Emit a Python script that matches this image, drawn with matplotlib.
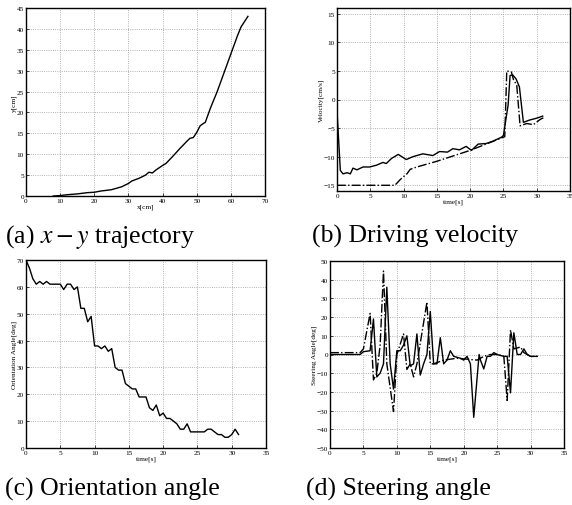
import matplotlib
matplotlib.use('Agg')
from matplotlib import pyplot as plt
import numpy as np

plt.rcParams['font.family'] = ['Liberation Serif', 'DejaVu Serif']
plt.rcParams['mathtext.fontset'] = 'stix'

# (a) x-y trajectory
traj_x = [8, 10, 12, 15, 18, 20, 22, 25, 28, 30, 31, 33, 35, 36, 37, 38, 40, 41, 43, 45, 47, 48, 49,
          50, 51, 52, 52.5, 54, 56, 58, 60, 62, 63, 65]
traj_y = [0, 0.1, 0.3, 0.5, 0.8, 0.9, 1.2, 1.5, 2.2, 3.0, 3.6, 4.2, 5.0, 5.7, 5.5, 6.2, 7.3, 7.8, 9.5,
          11.3, 13.0, 13.8, 14.0, 15.2, 16.8, 17.4, 17.6, 21, 25, 29.5, 34, 38.5, 40.5, 43]

# (b) driving velocity
vel_t = [0, 0.5, 0.9, 1.5, 2, 2.4, 3, 3.9, 4.9, 5.9, 6.9, 7.4, 8.2, 9.2, 10.4, 11.4, 12.9, 14.4, 15.4,
         16.6, 17.4, 18.4, 19.4, 20.2, 21.2, 22.4, 23.4, 24.7, 25.0, 25.7, 26.0, 26.4, 26.9, 27.4,
         28.0, 28.9, 29.9, 30.9]
vel_meas = [-2, -12.4, -13, -12.8, -13, -12, -12.3, -11.8, -11.8, -11.5, -11, -11.2, -10.3, -9.6, -10.5,
            -10, -9.5, -9.8, -9.1, -9.2, -8.6, -8.8, -8.2, -8.9, -7.8, -7.7, -7.3, -6.6, -6.3, -1,
            4.2, 4.3, 3.6, 2.2, -4, -3.6, -3.3, -2.9]
vel_ref_t = [0, 8.7, 9.5, 10.5, 11, 12, 15, 20, 25.2, 25.5, 26.2, 26.5, 27, 27.5, 28.5, 29.5, 30.5, 31]
vel_ref = [-15, -15, -14, -13, -12.2, -11.8, -10.8, -8.9, -6.5, 5.0, 4.8, 3.5, 2.5, -4.6, -4.2, -4.4,
           -3.5, -3.2]

# (c) orientation angle
ori_t = [0, 0.5, 1, 1.5, 2, 2.5, 3, 3.5, 5, 5.5, 6, 6.5, 7, 7.5, 8, 8.5, 9, 9.5, 10, 10.5, 11, 11.5,
         12, 12.5, 13, 13.5, 14, 14.5, 15, 15.5, 16, 16.5, 17, 17.5, 18, 18.5, 19, 19.5, 20, 20.5, 21,
         21.5, 22, 22.5, 23, 23.5, 24, 24.5, 25, 26, 26.5, 27, 27.5, 28, 28.5, 29, 29.5, 30, 30.5, 31]
ori = [70, 67, 63, 61, 62, 61, 62, 61, 61, 59, 61, 61, 59, 60, 52, 52, 47, 49, 38, 38, 37, 38, 36, 37,
       30, 29, 29, 24, 23, 22, 22, 19, 19, 19, 15, 14, 16, 12, 13, 11, 11, 10, 9, 7, 7, 9, 6, 6, 6, 6,
       7, 7, 6, 5, 5, 4, 4, 5, 7, 5]

# (d) steering angle
st_t = [0, 4.5, 5, 6, 6.5, 7, 7.5, 8, 8.5, 9, 9.5, 10, 10.5, 11, 11.5, 12, 12.5, 13, 13.5, 14, 14.5,
        15, 15.5, 16, 16.5, 17, 17.5, 18, 18.5, 19.5, 20, 20.5, 21, 21.5, 22.3, 22.5, 23, 23.5, 24,
        24.5, 25, 26, 26.5, 27, 27.5, 28, 28.5, 29, 29.5, 30, 31]
st_meas = [0, 0, 1.5, 2, 19, -12, -10, -5, 36, -5, -18.5, 2, 2, 5, 10, -6, -5, 11, -11, -5, 0, 23,
           -5, -5, 9, -5, -3, 2, -1, -2, -3, -1, -5, -33.6, 0, -3, -7.7, -1, -1, 1, 0, -1, -1, -20.5,
           11.6, 0, 0, 3, 0, -1, -1]
st_ref_t = [0, 4.5, 5, 6, 6.5, 7, 7.5, 8, 8.5, 9.5, 10, 11, 11.5, 12, 12.5, 13, 14.5, 15, 15.5, 17,
            19, 22, 23, 24, 25, 26, 26.5, 27, 27.5, 28.5, 29, 30, 31]
st_ref = [1, 1, 3, 22, -13.6, -10, 5, 44.6, -5, -30.5, 0, 11, -8, -5, -12, -5, 28, -5, -5, -3, -2, -3,
          -1, 0, 0, -1, -24.6, 13.2, 3, 4, 1, -1, -1]

captions = ['(a) $x-y$ trajectory', '(b) Driving velocity', '(c) Orientation angle', '(d) Steering angle']

W, H = 572, 506
fig = plt.figure(figsize=(W / 100, H / 100), dpi=100)


def mkax(l, t, r, b):
    return fig.add_axes([l / W, 1 - b / H, (r - l) / W, (b - t) / H])


def style(ax, xlabel, ylabel):
    ax.grid(True, linestyle=':', color='#999999', linewidth=0.6)
    ax.tick_params(labelsize=5.2, length=2, width=0.5, pad=1.5, direction='in')
    for s in ax.spines.values():
        s.set_linewidth(1.0)
    ax.set_xlabel(xlabel, fontsize=5.2, labelpad=0)
    ax.set_ylabel(ylabel, fontsize=5.2, labelpad=0)


ax = mkax(26, 9, 265, 197)
ax.plot(traj_x, traj_y, 'k-', linewidth=1.0)
ax.set_xlim(0, 70)
ax.set_ylim(0, 45)
ax.set_xticks(np.arange(0, 71, 10))
ax.set_yticks(np.arange(0, 46, 5))
style(ax, 'x[cm]', 'y[cm]')

ax = mkax(337, 9, 570, 192)
ax.plot(vel_t, vel_meas, 'k-', linewidth=1.0)
ax.plot(vel_ref_t, vel_ref, 'k-.', linewidth=1.0)
ax.set_xlim(0, 35)
ax.set_ylim(-16, 16)
ax.set_xticks(np.arange(0, 36, 5))
ax.set_yticks(np.arange(-15, 16, 5))
style(ax, 'time[s]', 'Velocity[cm/s]')

ax = mkax(26, 261, 266, 449)
ax.plot(ori_t, ori, 'k-', linewidth=1.0)
ax.set_xlim(0, 35)
ax.set_ylim(0, 70)
ax.set_xticks(np.arange(0, 36, 5))
ax.set_yticks(np.arange(0, 71, 10))
style(ax, 'time[s]', 'Orientation Angle[deg]')

ax = mkax(330, 262, 564, 449)
ax.plot(st_t, st_meas, 'k-', linewidth=1.0)
ax.plot(st_ref_t, st_ref, 'k-.', linewidth=1.0)
ax.set_xlim(0, 35)
ax.set_ylim(-50, 50)
ax.set_xticks(np.arange(0, 36, 5))
ax.set_yticks(np.arange(-50, 51, 10))
style(ax, 'time[s]', 'Steering Angle[deg]')

cap_pos = [(5, 243), (312, 243), (5, 496), (306, 496)]
for (cx, cy), c in zip(cap_pos, captions):
    fig.text(cx / W, 1 - cy / H, c, fontsize=18.5, ha='left', va='baseline')

fig.savefig('out.png', dpi=100)
